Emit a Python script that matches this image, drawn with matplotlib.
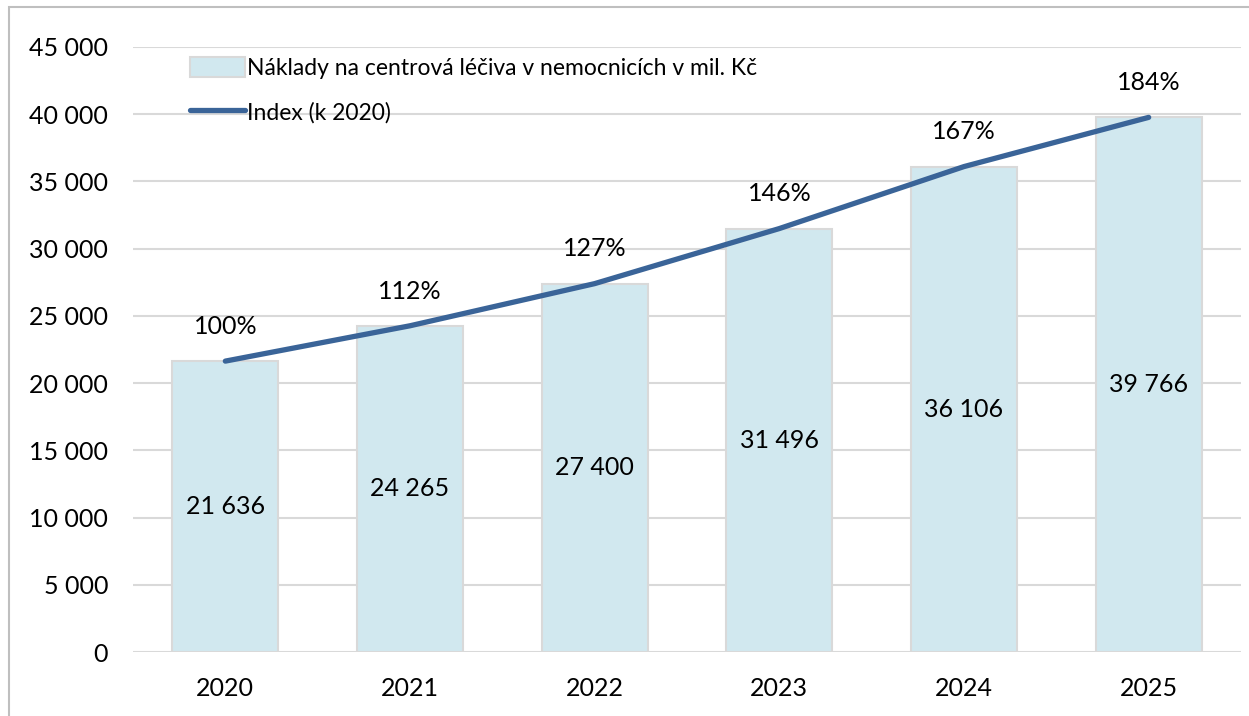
import matplotlib.pyplot as plt
from matplotlib.patches import Rectangle, Patch
from matplotlib.lines import Line2D

plt.rcParams['font.family'] = ['Lato', 'DejaVu Sans']

years = ['2020', '2021', '2022', '2023', '2024', '2025']
costs = [21636, 24265, 27400, 31496, 36106, 39766]
index_labels = ['100%', '112%', '127%', '146%', '167%', '184%']
y_ticks = [0, 5000, 10000, 15000, 20000, 25000, 30000, 35000, 40000, 45000]

bar_color = '#D1E8EF'
bar_edge = '#D9D9D9'
line_color = '#3A6498'
grid_color = '#D9D9D9'


def fmt_thousands(v):
    """format number with a space as thousands separator"""
    return f'{v:,}'.replace(',', ' ')


fig = plt.figure(figsize=(12.49, 7.16), dpi=100)
ax = fig.add_axes([133 / 1249, 1 - 652 / 716, 1108 / 1249, 605 / 716])

x = list(range(len(years)))
ax.bar(x, costs, width=0.575, color=bar_color, edgecolor=bar_edge, linewidth=1.5, zorder=2)
ax.plot(x, costs, color=line_color, linewidth=3.8, solid_capstyle='round', zorder=3)

# hodnoty uvnitř sloupců
for xi, v in zip(x, costs):
    ax.text(xi, v / 2, fmt_thousands(v), ha='center', va='center', fontsize=18, color='black', zorder=4)

# index nad čarou
for xi, v, lab in zip(x, costs, index_labels):
    ax.annotate(lab, (xi, v), xytext=(0, 25), textcoords='offset points',
                ha='center', va='center', fontsize=18, color='black', zorder=4)

ax.set_xlim(-0.5, len(years) - 0.5)
ax.set_ylim(0, 45000)
ax.set_yticks(y_ticks)
ax.set_yticklabels([fmt_thousands(t) for t in y_ticks])
ax.set_xticks(x)
ax.set_xticklabels(years)
ax.tick_params(axis='both', length=0, labelsize=18, colors='black')
ax.tick_params(axis='y', pad=18)
ax.tick_params(axis='x', pad=18)
ax.yaxis.grid(True, color=grid_color, linewidth=1.5, zorder=0)
ax.set_axisbelow(True)
for s in ax.spines.values():
    s.set_visible(False)

handles = [Patch(facecolor=bar_color, edgecolor=bar_edge, linewidth=1.5),
           Line2D([0], [0], color=line_color, linewidth=3.8, solid_capstyle='round')]
labels = ['Náklady na centrová léčiva v nemocnicích v mil. Kč', 'Index (k 2020)']
leg = ax.legend(handles, labels, loc='upper left', bbox_to_anchor=(0.051, 0.984),
                frameon=False, fontsize=16.5, handlelength=2.4, handleheight=1.0,
                handletextpad=0.1, labelspacing=0.97, borderpad=0, borderaxespad=0)

# rámeček grafu
fig.add_artist(Rectangle((9 / 1249, -0.1), 2, 1 - 7 / 716 + 0.1, transform=fig.transFigure,
                         fill=False, edgecolor='#BFBFBF', linewidth=1.5))

fig.savefig('out.png', dpi=100)
